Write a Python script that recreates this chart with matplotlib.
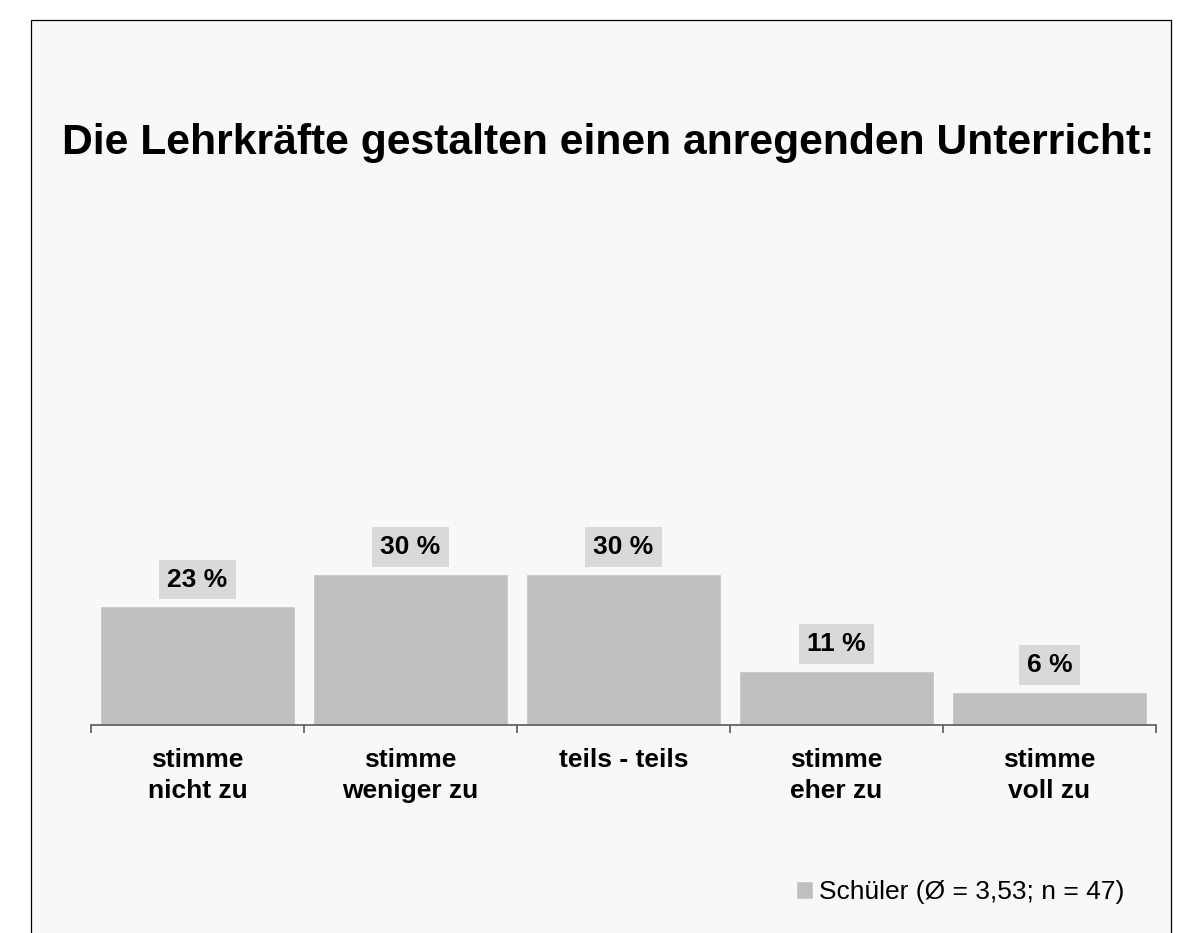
import matplotlib
matplotlib.use('Agg')
import matplotlib.pyplot as plt
from matplotlib.patches import Rectangle
import matplotlib.transforms as mtransforms

categories = ["stimme\nnicht zu", "stimme\nweniger zu", "teils - teils",
              "stimme\neher zu", "stimme\nvoll zu"]
values = [23.4, 29.8, 29.8, 10.6, 6.4]
value_labels = ["23 %", "30 %", "30 %", "11 %", "6 %"]
title = "Die Lehrkräfte gestalten einen anregenden Unterricht:"
legend_label = "Schüler (Ø = 3,53; n = 47)"

W, H = 1190, 933
plt.rcParams['font.family'] = ['Liberation Sans', 'DejaVu Sans']
fig = plt.figure(figsize=(W / 100, H / 100), dpi=100)
fig.patch.set_facecolor('white')
bg = '#F7F8FA'
top = 1 - 20 / H
fig.patches.append(Rectangle((31 / W, -0.05), 1140 / W, top + 0.05,
                             transform=fig.transFigure, facecolor=bg,
                             edgecolor='black', linewidth=0.9, zorder=-10))

fig.text(608.5 / W, 1 - 154 / H, title, ha='center', va='baseline',
         fontsize=30.7, fontweight='bold', color='black')

ax = fig.add_axes([91 / W, (H - 725) / H, 1065 / W, 504 / H])
ax.set_facecolor('none')
ax.set_zorder(1)
x = list(range(len(categories)))
bars = ax.bar(x, values, width=0.906, color='#BFBFBF', edgecolor='#C8C8C8',
              linewidth=0.6, label=legend_label, zorder=2)
ax.set_xlim(-0.5, len(categories) - 0.5)
ax.set_ylim(0, 100)

for s in ['top', 'left', 'right']:
    ax.spines[s].set_visible(False)
ax.spines['bottom'].set_color('#595959')
ax.spines['bottom'].set_linewidth(1.2)
ax.set_yticks([])
ax.set_xticks([i - 0.5 for i in range(len(categories) + 1)])
ax.set_xticklabels([])
ax.tick_params(axis='x', direction='out', length=6, width=1.2, color='#595959')

for i, (v, lab) in enumerate(zip(values, value_labels)):
    ax.annotate(lab, xy=(i, v), xytext=(0, 27.5), textcoords='offset pixels',
                ha='center', va='center', fontsize=19, fontweight='bold',
                bbox=dict(boxstyle='square,pad=0.3', fc='#D9D9D9', ec='none'),
                zorder=3)

trans = mtransforms.blended_transform_factory(ax.transData, fig.transFigure)
for i, c in enumerate(categories):
    ax.text(i, 1 - 748 / H, c, transform=trans, ha='center', va='top',
            fontsize=19, fontweight='bold', linespacing=1.38,
            multialignment='center')

ax.legend(handles=[bars], loc='center left',
          bbox_to_anchor=(797 / W, 1 - 892 / H), bbox_transform=fig.transFigure,
          frameon=False, fontsize=19, handlelength=0.57, handleheight=0.57,
          handletextpad=0.27, borderpad=0, borderaxespad=0)

fig.savefig('out.png', dpi=100, facecolor='white')
